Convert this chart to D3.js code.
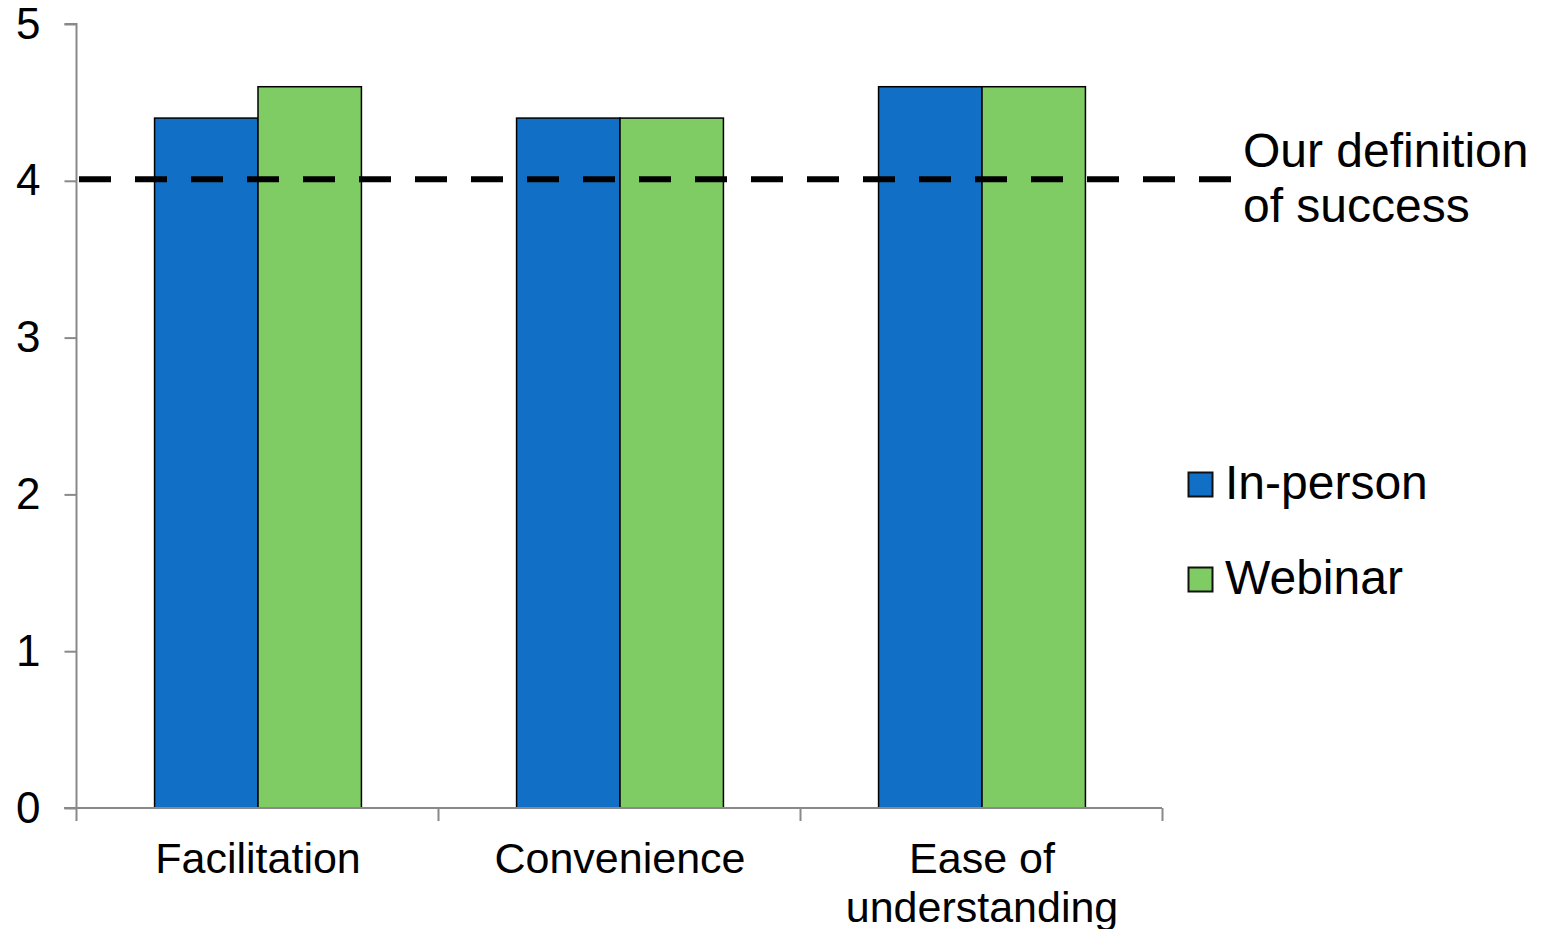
<!DOCTYPE html>
<html>
<head>
<meta charset="utf-8">
<script src="https://cdn.jsdelivr.net/npm/d3@7"></script>
<style>
  html, body { margin: 0; padding: 0; background: #fff; }
  svg { display: block; font-family: "Liberation Sans", Arial, sans-serif; }
</style>
</head>
<body>
<svg id="chart" width="1543" height="929"></svg>
<script>
// Average ratings by category and delivery format
const categories = ["Facilitation", "Convenience", "Ease of understanding"];
const categoryLines = [["Facilitation"], ["Convenience"], ["Ease of", "understanding"]];
const series = ["In-person", "Webinar"];
const inPerson = [4.4, 4.4, 4.6];
const webinar = [4.6, 4.4, 4.6];
const yTicks = [0, 1, 2, 3, 4, 5];
const target = 4;
const targetLines = ["Our definition", "of success"];
const colors = ["#1170c6", "#7ecc63"];

const values = [inPerson, webinar];
const svg = d3.select("#chart");

const x0 = d3.scaleBand().domain(categories).range([76, 1162]).padding(0);
const x1 = d3.scaleBand().domain(series).range([0, x0.bandwidth()])
  .paddingInner(0).paddingOuter(0.75);
const y = d3.scaleLinear().domain([0, 5]).range([808, 24]);

const axisColor = "#898989";

// Bars
categories.forEach((cat, i) => {
  const g = svg.append("g").attr("transform", `translate(${x0(cat) + 1},0)`);
  series.forEach((s, j) => {
    const v = values[j][i];
    g.append("rect")
      .attr("x", x1(s))
      .attr("y", y(v))
      .attr("width", x1.bandwidth())
      .attr("height", y(0) - y(v))
      .attr("fill", colors[j])
      .attr("stroke", "#000")
      .attr("stroke-width", 1.5);
  });
});

// Y axis
const yAxis = svg.append("g")
  .attr("transform", "translate(76.5,0)")
  .call(d3.axisLeft(y).tickValues(yTicks).tickSize(12).tickPadding(24).tickFormat(d3.format("d")));
yAxis.select(".domain").attr("stroke", axisColor).attr("stroke-width", 2).attr("d", `M-12,${y(5)}H0V${y(0)}`);
yAxis.selectAll(".tick line").attr("stroke", axisColor).attr("stroke-width", 2);
yAxis.selectAll(".tick text")
  .attr("fill", "#000")
  .style("font-size", "44px")
  .style("font-family", "'Liberation Sans', Arial, sans-serif");

// X axis (category boundaries as ticks)
const bounds = [76, 76 + x0.bandwidth(), 76 + 2 * x0.bandwidth(), 1162];
svg.append("line")
  .attr("x1", 64).attr("x2", 1162).attr("y1", y(0)).attr("y2", y(0))
  .attr("stroke", axisColor).attr("stroke-width", 2);
svg.selectAll(".xtick").data(bounds).enter().append("line")
  .attr("x1", d => d + 0.5).attr("x2", d => d + 0.5)
  .attr("y1", y(0)).attr("y2", y(0) + 13)
  .attr("stroke", axisColor).attr("stroke-width", 2);

// Category labels
categories.forEach((cat, i) => {
  const cx = x0(cat) + x0.bandwidth() / 2 + 1;
  const t = svg.append("text")
    .attr("x", cx)
    .attr("y", 873)
    .attr("text-anchor", "middle")
    .attr("fill", "#000")
    .style("font-size", "43px");
  categoryLines[i].forEach((line, k) => {
    t.append("tspan")
      .attr("x", cx)
      .attr("dy", k === 0 ? 0 : 49)
      .text(line);
  });
});

// Target line
svg.append("line")
  .attr("x1", 79).attr("x2", 1232)
  .attr("y1", y(target) - 1.5).attr("y2", y(target) - 1.5)
  .attr("stroke", "#000")
  .attr("stroke-width", 6)
  .attr("stroke-dasharray", "32 24");

const tt = svg.append("text")
  .attr("x", 1243).attr("y", 167)
  .attr("fill", "#000")
  .style("font-size", "48px");
targetLines.forEach((line, k) => {
  tt.append("tspan").attr("x", 1243).attr("dy", k === 0 ? 0 : 55).text(line);
});

// Legend
const legend = svg.append("g");
series.forEach((s, j) => {
  const ly = 472 + j * 95;
  legend.append("rect")
    .attr("x", 1188.5).attr("y", ly + 0.5)
    .attr("width", 24).attr("height", 24)
    .attr("fill", colors[j])
    .attr("stroke", "#111")
    .attr("stroke-width", 2);
  legend.append("text")
    .attr("x", 1225).attr("y", ly + 27)
    .attr("fill", "#000")
    .style("font-size", "48px")
    .text(s);
});
</script>
</body>
</html>
